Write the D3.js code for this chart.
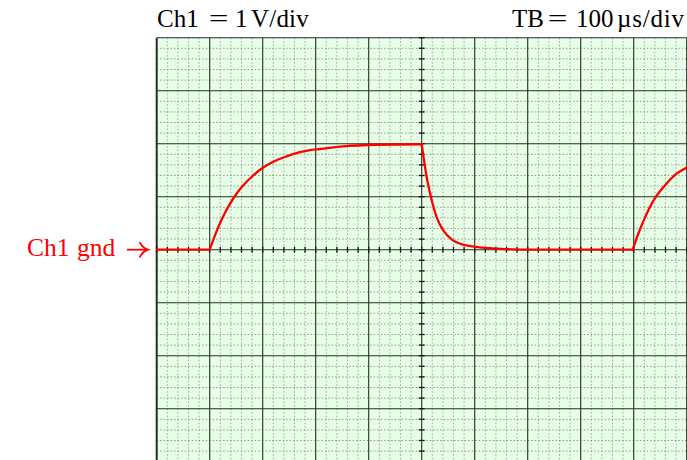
<!DOCTYPE html>
<html>
<head>
<meta charset="utf-8">
<script src="https://cdn.jsdelivr.net/npm/d3@7"></script>
<style>
  html, body { margin: 0; padding: 0; background: #fff; }
  svg { display: block; }
  text { font-family: "Liberation Serif", "DejaVu Serif", serif; }
</style>
</head>
<body>
<svg id="scope" width="687" height="460"></svg>
<script>
// Screen settings
const voltsPerDiv = 1;          // V
const timePerDiv = 100;         // µs
const hDivs = 10;
const vDivs = 8;
const subDivs = 5;

// Label pieces
const channelParts = ["Ch1", "=", "1", "V/div"];
const timebaseParts = ["TB", "=", "100", "µs/div"];
const groundLabel = "Ch1 gnd";

// Trace, split into pieces (time in µs, voltage in V)
const groundA = [[0, 0], [100, 0]];
const riseA = [[100, 0], [110, 0.27], [119, 0.49], [128, 0.68], [138, 0.86], [151, 1.06],
               [163, 1.21], [182, 1.40], [201, 1.55], [220, 1.66], [245, 1.76], [270, 1.84],
               [289, 1.88], [308, 1.90], [352, 1.95], [415, 1.98], [500, 1.99]];
const fallA = [[500, 1.99], [503, 1.78], [506, 1.58], [509, 1.39], [512.5, 1.21], [519, 0.93],
               [528, 0.62], [541, 0.36], [557, 0.19], [576, 0.10], [601, 0.055], [632, 0.026],
               [657, 0.012], [700, 0]];
const groundB = [[700, 0], [898, 0]];
const riseB = [[898, 0], [909, 0.31], [921, 0.60], [937, 0.92], [956, 1.18], [978, 1.41], [1000, 1.55]];
const tracePieces = [groundA, riseA, fallA, groundB, riseB];

const svg = d3.select("#scope");
const divPx = 53;
const screenLeft = 156.7, screenTop = 37.7;
const x = d3.scaleLinear().domain([0, hDivs * timePerDiv]).range([screenLeft, screenLeft + hDivs * divPx]);
const y = d3.scaleLinear().domain([-vDivs / 2 * voltsPerDiv, vDivs / 2 * voltsPerDiv])
  .range([screenTop + vDivs * divPx, screenTop]);

// Screen background
svg.append("rect")
  .attr("x", x(0)).attr("y", y(4))
  .attr("width", x(1000) - x(0)).attr("height", y(-4) - y(4))
  .attr("fill", "#e6ffe6");

const grid = svg.append("g");

// Minor (dotted) grid
const minorT = d3.range(0, hDivs * subDivs + 1).map(i => i * timePerDiv / subDivs)
  .filter((t, i) => i % subDivs !== 0);
const minorV = d3.range(0, vDivs * subDivs + 1).map(i => -4 + i * voltsPerDiv / subDivs)
  .filter((v, i) => i % subDivs !== 0);

grid.selectAll("line.minor-v").data(minorT).join("line")
  .attr("x1", d => x(d)).attr("x2", d => x(d))
  .attr("y1", y(4)).attr("y2", y(-4))
  .attr("stroke", "#9a9a9a").attr("stroke-width", 0.9).attr("stroke-dasharray", "1.5,2");
grid.selectAll("line.minor-h").data(minorV).join("line")
  .attr("x1", x(0)).attr("x2", x(1000))
  .attr("y1", d => y(d)).attr("y2", d => y(d))
  .attr("stroke", "#8a8a8a").attr("stroke-width", 0.9).attr("stroke-dasharray", "1.5,2");

// Major grid
const majorT = d3.range(0, hDivs + 1).map(i => i * timePerDiv);
const majorV = d3.range(0, vDivs + 1).map(i => -4 + i * voltsPerDiv);
grid.selectAll("line.major-v").data(majorT).join("line")
  .attr("x1", d => x(d)).attr("x2", d => x(d))
  .attr("y1", y(4)).attr("y2", y(-4))
  .attr("stroke", "#2a2a2a").attr("stroke-width", d => d === 0 ? 2 : 1.1);
grid.selectAll("line.major-h").data(majorV).join("line")
  .attr("x1", x(0)).attr("x2", x(1000))
  .attr("y1", d => y(d)).attr("y2", d => y(d))
  .attr("stroke", "#2a2a2a").attr("stroke-width", 1.1);

// Graduation ticks on the centre axes
const tickT = d3.range(0, hDivs * subDivs + 1).map(i => i * timePerDiv / subDivs);
const tickV = d3.range(0, vDivs * subDivs + 1).map(i => -4 + i * voltsPerDiv / subDivs);
grid.selectAll("line.tick-t").data(tickT).join("line")
  .attr("x1", d => x(d)).attr("x2", d => x(d))
  .attr("y1", y(0) - 3).attr("y2", y(0) + 3)
  .attr("stroke", "#111").attr("stroke-width", 1.3);
grid.selectAll("line.tick-v").data(tickV).join("line")
  .attr("x1", x(500) - 3).attr("x2", x(500) + 3)
  .attr("y1", d => y(d)).attr("y2", d => y(d))
  .attr("stroke", "#111").attr("stroke-width", 1.3);

// Trace
const line = d3.line().x(d => x(d[0])).y(d => y(d[1])).curve(d3.curveMonotoneX);
svg.append("g").selectAll("path").data(tracePieces).join("path")
  .attr("d", line)
  .attr("fill", "none")
  .attr("stroke", "#ff0000")
  .attr("stroke-width", 2.3)
  .attr("stroke-linejoin", "round")
  .attr("stroke-linecap", "round");

// Header labels: each piece placed on its own; the "=" is widened like a math relation sign
function header(parts, xs, unitSpacing) {
  parts.forEach((p, i) => {
    const t = svg.append("text").attr("font-size", 25).attr("fill", "#000").text(p);
    if (p === "=") {
      t.attr("text-anchor", "middle")
        .attr("transform", `translate(${xs[i]},27) scale(1.4,1)`);
    } else {
      t.attr("x", xs[i]).attr("y", 27);
      if (i === parts.length - 1) t.attr("letter-spacing", unitSpacing);
    }
  });
}
header(channelParts, [157, 218.5, 235, 251], 0.2);
header(timebaseParts, [512, 557.5, 576, 617], 0.8);

// Ground marker
const gnd = svg.append("g").attr("fill", "#ff0000");
gnd.append("text")
  .attr("x", 27).attr("y", y(0) + 6)
  .attr("font-size", 25.5)
  .attr("word-spacing", 1)
  .text(groundLabel);
const arrowX0 = 127, arrowX1 = 148;
gnd.append("line")
  .attr("x1", arrowX0).attr("x2", arrowX1 - 1)
  .attr("y1", y(0)).attr("y2", y(0))
  .attr("stroke", "#ff0000").attr("stroke-width", 1.8);
gnd.append("path")
  .attr("d", `M${arrowX1 - 8},${y(0) - 7} Q${arrowX1 - 5},${y(0) - 1.5} ${arrowX1},${y(0)} Q${arrowX1 - 5},${y(0) + 1.5} ${arrowX1 - 8},${y(0) + 7}`)
  .attr("fill", "none")
  .attr("stroke", "#ff0000").attr("stroke-width", 1.8).attr("stroke-linecap", "round");
</script>
</body>
</html>
